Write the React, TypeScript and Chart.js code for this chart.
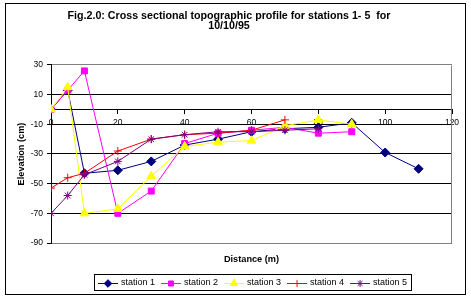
import React, { useEffect, useRef } from 'react';
import { Chart, registerables } from 'chart.js';
import { drawPoint } from 'chart.js/helpers';

Chart.register(...registerables);

const titleLines = ['Fig.2.0: Cross sectional topographic profile for stations 1- 5  for', '10/10/95'];
const xAxisTitle = 'Distance (m)';
const yAxisTitle = 'Elevation (cm)';

const distances = [0, 5, 10, 20, 30, 40, 50, 60, 70, 80, 90, 100, 110];
const station1 = [0, 13, -43, -41, -35, -24, -20, -15, -13, -12, -9, -29, -40];
const station2 = [0, 13, 26, -70, -55, -23, -16, -14, -12, -16, -15, null, null];
const station3 = [0, 15, -70, -67, -45, -25, -22, -21, -11, -7, -10, null, null];
const station4 = [-53, -46, -43, -28, -20, -17, -16, -14, -7, null, null, null, null];
const station5 = [-70, -58, -44, -35, -20, -17, -15, -15, -14, -13, null, null, null];

const seriesNames = ['station 1', 'station 2', 'station 3', 'station 4', 'station 5'];
const seriesValues = [station1, station2, station3, station4, station5];

const xMin = 0, xMax = 120, xStep = 20;
const yMin = -90, yMax = 30, yStep = 20;

const colors = ['#000080', '#FF00FF', '#FFFF00', '#FF0000', '#800080'];
const pointStyles = ['rectRot', 'rect', 'triangle', 'cross', 'star'];
const radii = [4.5, 4.2, 5, 4, 4];

const FONT = "'Liberation Sans', Arial, sans-serif";

const framePlugin = {
  id: 'frame',
  beforeDraw(chart: any) {
    const ctx = chart.ctx;
    ctx.save();
    ctx.fillStyle = '#ffffff';
    ctx.fillRect(0, 0, chart.width, chart.height);
    ctx.restore();
  },
  beforeDatasetsDraw(chart: any) {
    const ctx = chart.ctx;
    const a = chart.chartArea;
    ctx.save();
    ctx.strokeStyle = '#808080';
    ctx.lineWidth = 1;
    const r = Math.round(a.right) - 0.5;
    ctx.beginPath();
    ctx.moveTo(r, Math.round(a.top) + 0.5);
    ctx.lineTo(r, Math.round(a.bottom) + 0.5);
    ctx.stroke();
    ctx.restore();
  },
  afterDraw(chart: any) {
    const ctx = chart.ctx;
    ctx.save();
    ctx.strokeStyle = '#000000';
    ctx.lineWidth = 1;
    ctx.strokeRect(5.5, 3.5, 460, 291);
    ctx.font = `9px ${FONT}`;
    ctx.textBaseline = 'middle';
    ctx.textAlign = 'left';
    const cy = 283;
    let x = 98;
    chart.data.datasets.forEach((ds: any) => {
      ctx.strokeStyle = ds.borderColor;
      ctx.lineWidth = 1;
      ctx.beginPath();
      ctx.moveTo(x, cy + 0.5);
      ctx.lineTo(x + 20, cy + 0.5);
      ctx.stroke();
      ctx.fillStyle = ds.pointBackgroundColor;
      ctx.strokeStyle = ds.pointBorderColor;
      drawPoint(ctx, { pointStyle: ds.pointStyle, radius: ds.pointRadius * 0.85, rotation: 0, borderWidth: 1 }, x + 10, cy + 0.5);
      ctx.fillStyle = '#000000';
      ctx.fillText(ds.label, x + 23, cy);
      x = x + 23 + ctx.measureText(ds.label).width + 6;
    });
    ctx.strokeStyle = '#000000';
    ctx.strokeRect(94.5, 274.5, Math.round(x - 96), 16);
    ctx.restore();
  },
};

export default function App() {
  const ref = useRef<HTMLCanvasElement | null>(null);

  useEffect(() => {
    document.body.style.margin = '0';
    const canvas = ref.current;
    if (!canvas) return;

    const datasets = seriesValues.map((vals, i) => ({
      label: seriesNames[i],
      data: distances
        .map((d, j) => ({ x: d, y: vals[j] }))
        .filter((p) => p.y !== null && p.y !== undefined),
      borderColor: colors[i],
      backgroundColor: colors[i],
      pointBackgroundColor: colors[i],
      pointBorderColor: colors[i],
      pointStyle: pointStyles[i],
      pointRadius: radii[i],
      pointBorderWidth: 1,
      borderWidth: 1,
      tension: 0,
      fill: false,
      order: 4 - i,
      xAxisID: 'x',
      yAxisID: 'y',
    }));

    const chart = new Chart(canvas, {
      type: 'line',
      data: { datasets },
      options: {
        animation: false,
        responsive: false,
        maintainAspectRatio: false,
        layout: { padding: { left: 6, right: 19, top: 0, bottom: 34 } },
        plugins: {
          legend: { display: false },
          tooltip: { enabled: false },
          title: {
            display: true,
            text: titleLines,
            color: '#000000',
            font: { family: FONT, size: 10.7, weight: 'bold', lineHeight: 0.98 },
            padding: { top: 10.5, bottom: 33.5 },
          },
        },
        scales: {
          x: {
            type: 'linear',
            axis: 'x',
            position: { y: 0 },
            min: xMin,
            max: xMax,
            ticks: {
              stepSize: xStep,
              color: '#000000',
              padding: 4,
              maxRotation: 0,
              font: { family: FONT, size: 8.5 },
            },
            grid: {
              display: true,
              drawOnChartArea: false,
              drawTicks: true,
              tickLength: 4,
              tickColor: '#000000',
            },
            border: { display: true, color: '#000000', width: 1 },
          },
          xt: {
            type: 'linear',
            axis: 'x',
            position: 'bottom',
            min: xMin,
            max: xMax,
            ticks: { display: false },
            grid: { display: false, drawTicks: false },
            border: { display: false },
            title: {
              display: true,
              text: xAxisTitle,
              color: '#000000',
              font: { family: FONT, size: 9.2, weight: 'bold', lineHeight: 1.2 },
              padding: { top: 0, bottom: 0 },
            },
            afterFit: (s: any) => {
              s.height = 22;
            },
          },
          y: {
            type: 'linear',
            position: 'left',
            min: yMin,
            max: yMax,
            ticks: {
              stepSize: yStep,
              color: '#000000',
              padding: 4,
              font: { family: FONT, size: 8.5 },
            },
            grid: {
              color: (c: any) => (c.tick && (c.tick.value === yMax || c.tick.value === yMin) ? '#808080' : '#000000'),
              lineWidth: 1,
              drawTicks: true,
              tickLength: 4,
              tickColor: '#000000',
            },
            border: { display: true, color: '#000000', width: 1 },
            title: {
              display: true,
              text: yAxisTitle,
              color: '#000000',
              font: { family: FONT, size: 9.2, weight: 'bold', lineHeight: 1.2 },
              padding: { top: 10, bottom: 0 },
            },
            afterFit: (s: any) => {
              s.width = 45;
            },
          },
        },
      },
      plugins: [framePlugin],
    } as any);

    return () => chart.destroy();
  }, []);

  return (
    <div style={{ width: 471, height: 299 }}>
      <canvas ref={ref} width={471} height={299} style={{ display: 'block', width: 471, height: 299 }} />
    </div>
  );
}
